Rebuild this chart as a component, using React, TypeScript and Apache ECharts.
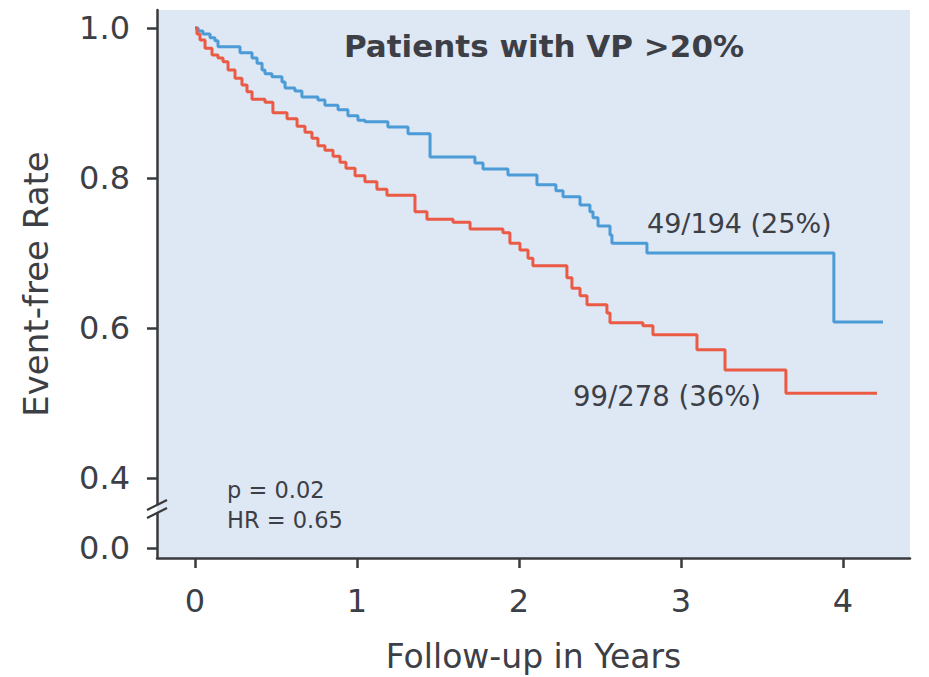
import React, { useEffect, useRef } from "react";
import * as echarts from "echarts";

// Kaplan-Meier step points (time in years, event-free rate after the step)
const blueTimes = [0, 0.019, 0.049, 0.093, 0.123, 0.142, 0.278, 0.352, 0.383, 0.414, 0.432, 0.475, 0.537, 0.556, 0.617, 0.66, 0.759, 0.802, 0.883, 0.944, 1.006, 1.049, 1.191, 1.315, 1.451, 1.728, 1.778, 1.932, 2.111, 2.228, 2.272, 2.377, 2.438, 2.457, 2.488, 2.562, 2.574, 2.79, 3.944, 4.247];
const blueRates = [1.0, 0.996, 0.992, 0.987, 0.983, 0.975, 0.967, 0.96, 0.953, 0.944, 0.939, 0.935, 0.928, 0.92, 0.916, 0.908, 0.904, 0.897, 0.891, 0.883, 0.877, 0.875, 0.868, 0.859, 0.828, 0.82, 0.812, 0.804, 0.791, 0.783, 0.775, 0.764, 0.755, 0.747, 0.736, 0.724, 0.713, 0.7, 0.608, 0.608];

const redTimes = [0, 0.012, 0.031, 0.062, 0.105, 0.142, 0.173, 0.204, 0.247, 0.29, 0.321, 0.352, 0.432, 0.481, 0.568, 0.63, 0.679, 0.722, 0.759, 0.802, 0.852, 0.895, 0.932, 0.988, 1.049, 1.123, 1.185, 1.358, 1.432, 1.593, 1.698, 1.901, 1.944, 2.006, 2.056, 2.086, 2.296, 2.327, 2.377, 2.42, 2.543, 2.562, 2.765, 2.827, 3.099, 3.272, 3.648, 4.21];
const redRates = [1.0, 0.992, 0.984, 0.973, 0.964, 0.96, 0.955, 0.944, 0.933, 0.924, 0.915, 0.905, 0.901, 0.887, 0.879, 0.869, 0.861, 0.853, 0.843, 0.837, 0.829, 0.821, 0.813, 0.803, 0.795, 0.785, 0.777, 0.755, 0.745, 0.741, 0.732, 0.727, 0.713, 0.704, 0.693, 0.683, 0.667, 0.653, 0.643, 0.631, 0.62, 0.607, 0.603, 0.591, 0.571, 0.544, 0.513, 0.513];

const xTickValues = [0, 1, 2, 3, 4];
const xTickLabels = ["0", "1", "2", "3", "4"];
// broken axis: the "0.0" tick sits just below the break
const yTickValues = [0.3067, 0.4, 0.6, 0.8, 1.0];
const yTickLabels = ["0.0", "0.4", "0.6", "0.8", "1.0"];

const titleText = "Patients with VP >20%";
const blueLabel = "49/194 (25%)";
const redLabel = "99/278 (36%)";
const statLines = ["p = 0.02", "HR = 0.65"];
const xName = "Follow-up in Years";
const yName = "Event-free Rate";

const FONT = "DejaVu Sans";
const TEXT = "#3c4046";
const AXIS = "#383a3d";
const BLUE = "#4b9bd6";
const RED = "#ea5a44";
const BG = "#dee7f4";

export default function App() {
  const ref = useRef<HTMLDivElement>(null);

  useEffect(() => {
    if (!ref.current) return;
    const chart = echarts.init(ref.current, null, { renderer: "svg" });

    const blueData = blueTimes.map((t, i) => [t, blueRates[i]]);
    const redData = redTimes.map((t, i) => [t, redRates[i]]);

    const option: any = {
      animation: false,
      backgroundColor: "#ffffff",
      textStyle: { fontFamily: FONT },
      grid: {
        left: 157,
        top: 10,
        width: 753,
        height: 548,
        show: true,
        backgroundColor: BG,
        borderWidth: 0,
        containLabel: false,
        outerBoundsMode: "none",
      },
      xAxis: {
        type: "value",
        min: -0.2346,
        max: 4.414,
        name: xName,
        nameLocation: "middle",
        nameGap: 82,
        nameTextStyle: { color: TEXT, fontSize: 33, fontFamily: FONT },
        axisLine: { show: true, onZero: false, lineStyle: { color: AXIS, width: 2.5 } },
        axisTick: { show: true, inside: false, length: 10, customValues: xTickValues, lineStyle: { color: AXIS, width: 2.5 } },
        axisLabel: {
          show: true,
          customValues: xTickValues,
          margin: 27,
          color: TEXT,
          fontSize: 32,
          fontFamily: FONT,
          formatter: (v: number) => {
            const i = xTickValues.findIndex((x) => Math.abs(x - v) < 1e-6);
            return i >= 0 ? xTickLabels[i] : "";
          },
        },
        splitLine: { show: false },
      },
      yAxis: {
        type: "value",
        min: 0.2933,
        max: 1.024,
        name: yName,
        nameLocation: "middle",
        nameGap: 104,
        nameRotate: 90,
        nameTextStyle: { color: TEXT, fontSize: 34, fontFamily: FONT },
        axisLine: { show: true, onZero: false, lineStyle: { color: AXIS, width: 2.5 } },
        axisTick: { show: true, inside: false, length: 10, customValues: yTickValues, lineStyle: { color: AXIS, width: 2.5 } },
        axisLabel: {
          show: true,
          customValues: yTickValues,
          margin: 27,
          color: TEXT,
          fontSize: 32,
          fontFamily: FONT,
          formatter: (v: number) => {
            const i = yTickValues.findIndex((y) => Math.abs(y - v) < 1e-4);
            return i >= 0 ? yTickLabels[i] : "";
          },
        },
        splitLine: { show: false },
      },
      series: [
        {
          type: "line",
          step: "end",
          data: blueData,
          showSymbol: false,
          symbol: "none",
          lineStyle: { color: BLUE, width: 3 },
          z: 3,
        },
        {
          type: "line",
          step: "end",
          data: redData,
          showSymbol: false,
          symbol: "none",
          lineStyle: { color: RED, width: 3 },
          z: 4,
        },
      ],
      graphic: [
        {
          type: "text",
          z: 100,
          x: 544,
          y: 46,
          style: {
            text: titleText,
            fill: TEXT,
            font: `bold 31px "${FONT}"`,
            textAlign: "center",
            textVerticalAlign: "middle",
          },
        },
        {
          type: "text",
          z: 100,
          x: 647,
          y: 223,
          style: {
            text: blueLabel,
            fill: TEXT,
            font: `27px "${FONT}"`,
            textAlign: "left",
            textVerticalAlign: "middle",
          },
        },
        {
          type: "text",
          z: 100,
          x: 573,
          y: 396,
          style: {
            text: redLabel,
            fill: TEXT,
            font: `27.5px "${FONT}"`,
            textAlign: "left",
            textVerticalAlign: "middle",
          },
        },
        {
          type: "text",
          z: 100,
          x: 227,
          y: 490,
          style: {
            text: statLines[0],
            fill: TEXT,
            font: `22.5px "${FONT}"`,
            textAlign: "left",
            textVerticalAlign: "middle",
          },
        },
        {
          type: "text",
          z: 100,
          x: 227,
          y: 520,
          style: {
            text: statLines[1],
            fill: TEXT,
            font: `22.5px "${FONT}"`,
            textAlign: "left",
            textVerticalAlign: "middle",
          },
        },
        // axis break mark
        { type: "rect", z: 100, shape: { x: 150, y: 505, width: 7, height: 7 }, style: { fill: "#ffffff" } },
        { type: "rect", z: 100, shape: { x: 157, y: 505, width: 7, height: 7 }, style: { fill: BG } },
        { type: "line", z: 101, shape: { x1: 147, y1: 510, x2: 167, y2: 500 }, style: { stroke: AXIS, lineWidth: 2.2 } },
        { type: "line", z: 101, shape: { x1: 147, y1: 518, x2: 167, y2: 508 }, style: { stroke: AXIS, lineWidth: 2.2 } },
      ],
    };

    chart.setOption(option);
    return () => chart.dispose();
  }, []);

  return (
    <div
      ref={ref}
      style={{ position: "fixed", left: 0, top: 0, width: 929, height: 677 }}
    />
  );
}
